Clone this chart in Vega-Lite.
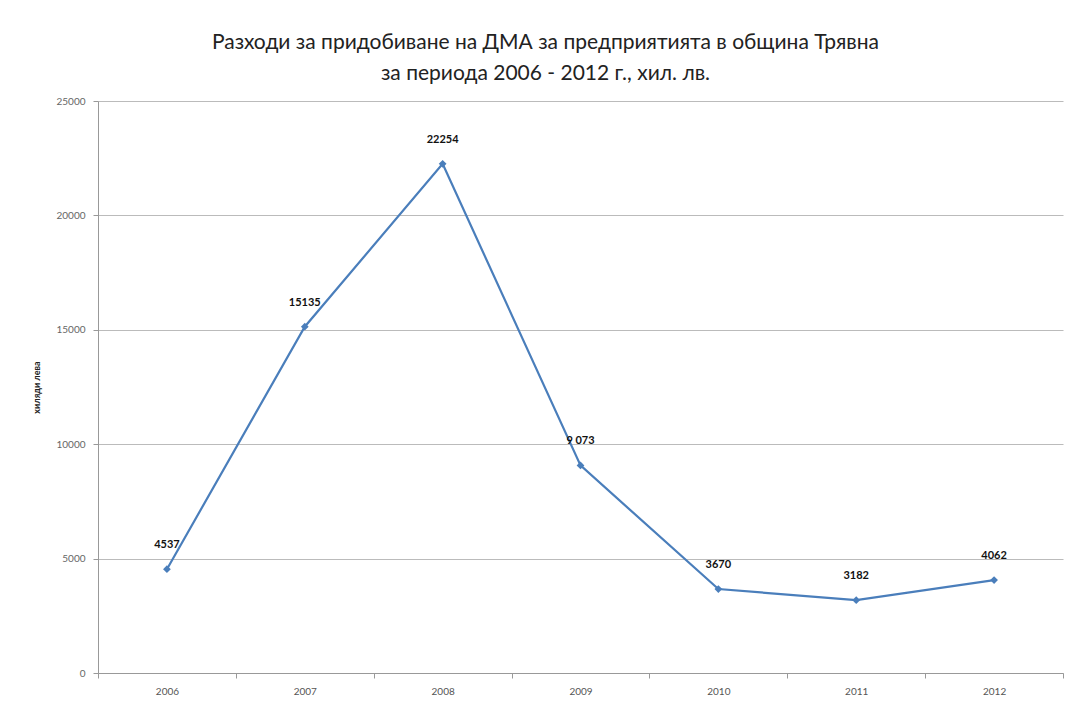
{
  "$schema": "https://vega.github.io/schema/vega-lite/v6.json",
  "autosize": {"type": "none"},
  "width": 965,
  "height": 572,
  "padding": {"left": 98, "top": 101, "right": 4, "bottom": 31},
  "background": "white",
  "title": {
    "text": ["Разходи за придобиване на ДМА за предприятията в община Трявна", "за периода 2006 - 2012 г., хил. лв."],
    "font": "Lato",
    "fontSize": 21,
    "fontWeight": "normal",
    "color": "#222222",
    "lineHeight": 31,
    "anchor": "middle",
    "dx": -35,
    "offset": 12
  },
  "data": {
    "values": [
      {"year": "2006", "value": 4537, "label": "4537"},
      {"year": "2007", "value": 15135, "label": "15135"},
      {"year": "2008", "value": 22254, "label": "22254"},
      {"year": "2009", "value": 9073, "label": "9 073"},
      {"year": "2010", "value": 3670, "label": "3670"},
      {"year": "2011", "value": 3182, "label": "3182"},
      {"year": "2012", "value": 4062, "label": "4062"}
    ]
  },
  "encoding": {
    "x": {
      "field": "year", "type": "ordinal", "title": null,
      "scale": {"paddingInner": 0, "paddingOuter": 0},
      "axis": {
        "labelAngle": 0, "labelFont": "Lato", "labelFontSize": 10, "labelColor": "#555555",
        "domainColor": "#999999", "tickColor": "#999999", "tickBand": "extent", "tickSize": 5,
        "labelPadding": 8, "grid": false
      }
    },
    "y": {
      "field": "value", "type": "quantitative",
      "title": "хиляди лева",
      "scale": {"domain": [0, 25000], "nice": false},
      "axis": {
        "values": [0, 5000, 10000, 15000, 20000, 25000],
        "format": "d",
        "labelFont": "Lato", "labelFontSize": 10, "labelColor": "#666666",
        "titleFont": "Lato", "titleFontSize": 9, "titleFontWeight": "bold", "titleColor": "#222222",
        "titlePadding": 14,
        "domainColor": "#999999", "tickColor": "#999999", "tickSize": 5,
        "gridColor": "#bbbbbb", "labelPadding": 8
      }
    }
  },
  "layer": [
    {
      "mark": {"type": "line", "color": "#4a7ebb", "strokeWidth": 2.2, "point": {"shape": "diamond", "size": 60, "filled": true, "color": "#4a7ebb"}}
    },
    {
      "mark": {"type": "text", "font": "Lato", "fontSize": 11, "fontWeight": "bold", "color": "#111111", "dy": -24},
      "encoding": {"text": {"field": "label"}}
    }
  ],
  "config": {"view": {"stroke": null}}
}
